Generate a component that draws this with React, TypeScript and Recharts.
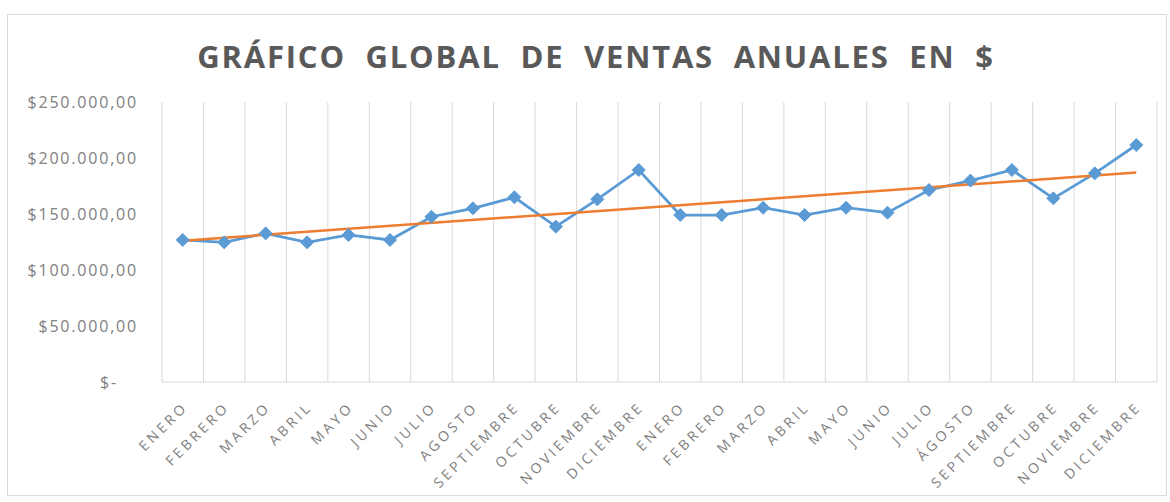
import React from "react";
import { LineChart, Line, XAxis, YAxis, CartesianGrid } from "recharts";

const months: string[] = [
  "ENERO", "FEBRERO", "MARZO", "ABRIL", "MAYO", "JUNIO", "JULIO", "AGOSTO",
  "SEPTIEMBRE", "OCTUBRE", "NOVIEMBRE", "DICIEMBRE",
  "ENERO", "FEBRERO", "MARZO", "ABRIL", "MAYO", "JUNIO", "JULIO", "ÁGOSTO",
  "SEPTIEMBRE", "OCTUBRE", "NOVIEMBRE", "DICIEMBRE",
];

const sales: number[] = [
  126800, 124700, 132700, 124700, 131300, 126800, 147600, 155100,
  164900, 138700, 163100, 189300,
  149100, 149100, 155600, 149100, 155600, 151200, 171400, 179800,
  189300, 164000, 186300, 211600,
];

// Linear trend line: start and end values
const trendStart = 126200;
const trendEnd = 187000;

const yTicks: number[] = [0, 50000, 100000, 150000, 200000, 250000];
const gridTicks: number[] = Array.from({ length: 25 }, (_, i) => i);
const labelTicks: number[] = months.map((_, i) => i + 0.5);

const data = months.map((m, i) => ({
  pos: i + 0.5,
  label: m,
  sales: sales[i],
  trend: i === 0 ? trendStart : i === months.length - 1 ? trendEnd : null,
}));

const fmtMoney = (v: number): string => {
  if (v === 0) return "$-";
  const s = Math.round(v).toString();
  const withDots = s.replace(/\B(?=(\d{3})+(?!\d))/g, ".");
  return "$" + withDots + ",00";
};

const TEXT = "#808080";

const YTick = (props: any) => {
  const { x, y, payload } = props;
  const v = payload.value as number;
  return (
    <text
      x={x + (v === 0 ? -20 : 0)}
      y={y}
      dy={6}
      textAnchor="end"
      fill={TEXT}
      fontSize={16}
      letterSpacing={1.8}
      fontFamily="'Open Sans', sans-serif"
    >
      {fmtMoney(v)}
    </text>
  );
};

const XTick = (props: any) => {
  const { x, y, payload } = props;
  const idx = Math.floor(payload.value as number);
  const label = months[idx] ?? "";
  return (
    <g transform={`translate(${x + 6},${y + 18}) rotate(-45)`}>
      <text
        x={0}
        y={0}
        textAnchor="end"
        fill={TEXT}
        fontSize={14}
        letterSpacing={3.3}
        fontFamily="'Open Sans', sans-serif"
      >
        {label}
      </text>
    </g>
  );
};

const Diamond = (props: any) => {
  const { cx, cy } = props;
  if (cx == null || cy == null) return null;
  const r = 6.5;
  return (
    <path
      d={`M${cx},${cy - r} L${cx + r},${cy} L${cx},${cy + r} L${cx - r},${cy} Z`}
      fill="#5B9BD5"
      stroke="#5B9BD5"
      strokeWidth={1}
    />
  );
};

const gridGenerator = (props: any) => {
  const xAxis = props?.xAxis;
  if (xAxis && typeof xAxis.scale === "function") {
    return gridTicks.map((t) => xAxis.scale(t));
  }
  const off = props?.offset ?? { left: 162, width: 995 };
  const [d0, d1] = [0, 24];
  return gridTicks.map((t) => off.left + ((t - d0) / (d1 - d0)) * off.width);
};

export default function App() {
  return (
    <div style={{ position: "absolute", left: 0, top: 0, width: 1170, height: 502, background: "#fff" }}>
      <div
        style={{
          position: "absolute",
          left: 7,
          top: 14,
          width: 1160,
          height: 482,
          border: "1px solid #d9d9d9",
          boxSizing: "border-box",
        }}
      />
      <div
        style={{
          position: "absolute",
          left: 0,
          top: 37,
          width: 1192,
          textAlign: "center",
          fontFamily: "'Open Sans', sans-serif",
          fontWeight: 700,
          fontSize: 31,
          lineHeight: "38px",
          letterSpacing: 1.8,
          color: "#595959",
          whiteSpace: "pre",
        }}
      >
        {"GRÁFICO  GLOBAL  DE  VENTAS  ANUALES  EN  $"}
      </div>
      <div style={{ position: "absolute", left: 0, top: 0 }}>
        <LineChart
          width={1170}
          height={502}
          data={data}
          margin={{ top: 102, right: 13, left: 0, bottom: 0 }}
        >
          <CartesianGrid
            xAxisId="months"
            horizontal={false}
            vertical={true}
            stroke="#d9d9d9"
            verticalCoordinatesGenerator={gridGenerator}
          />
          <XAxis
            xAxisId="months"
            type="number"
            dataKey="pos"
            domain={[0, 24]}
            ticks={labelTicks}
            interval={0}
            tick={<XTick />}
            tickLine={false}
            axisLine={{ stroke: "#d9d9d9" }}
            height={120}
            allowDataOverflow
          />
          <YAxis
            domain={[0, 250000]}
            ticks={yTicks}
            tick={<YTick />}
            tickLine={false}
            axisLine={false}
            width={162}
            tickMargin={24}
            tickSize={0}
          />
          <Line
            xAxisId="months"
            type="linear"
            dataKey="sales"
            stroke="#5B9BD5"
            strokeWidth={2.75}
            dot={<Diamond />}
            activeDot={false}
            isAnimationActive={false}
          />
          <Line
            xAxisId="months"
            type="linear"
            dataKey="trend"
            stroke="#ED7D31"
            strokeWidth={2.5}
            dot={false}
            activeDot={false}
            connectNulls
            isAnimationActive={false}
          />
        </LineChart>
      </div>
    </div>
  );
}
